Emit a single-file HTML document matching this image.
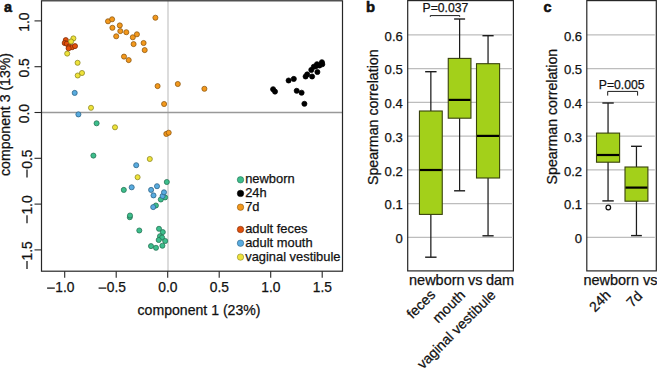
<!DOCTYPE html>
<html><head><meta charset="utf-8"><style>
html,body{margin:0;padding:0;background:#fff;}
body{width:657px;height:368px;overflow:hidden;}
svg{display:block;}
svg text{font-family:"Liberation Sans", sans-serif;fill:#111;stroke:#111;stroke-width:0.25px;}
</style></head><body>
<svg width="657" height="368" viewBox="0 0 657 368">
<line x1="168.0" y1="0.8" x2="168.0" y2="271.2" stroke="#cdcdcd" stroke-width="1.4"/>
<line x1="41.5" y1="112.50" x2="342.5" y2="112.50" stroke="#999999" stroke-width="1.3"/>
<circle cx="108.0" cy="21.3" r="2.55" fill="#f3981c" stroke="#8a5510" stroke-width="0.75"/>
<circle cx="112.1" cy="19.3" r="2.55" fill="#f3981c" stroke="#8a5510" stroke-width="0.75"/>
<circle cx="112.4" cy="27.8" r="2.55" fill="#f3981c" stroke="#8a5510" stroke-width="0.75"/>
<circle cx="119.8" cy="25.4" r="2.55" fill="#f3981c" stroke="#8a5510" stroke-width="0.75"/>
<circle cx="120.3" cy="31.1" r="2.55" fill="#f3981c" stroke="#8a5510" stroke-width="0.75"/>
<circle cx="126.3" cy="32.2" r="2.55" fill="#f3981c" stroke="#8a5510" stroke-width="0.75"/>
<circle cx="116.2" cy="36.3" r="2.55" fill="#f3981c" stroke="#8a5510" stroke-width="0.75"/>
<circle cx="132.8" cy="37.3" r="2.55" fill="#f3981c" stroke="#8a5510" stroke-width="0.75"/>
<circle cx="136.9" cy="34.3" r="2.55" fill="#f3981c" stroke="#8a5510" stroke-width="0.75"/>
<circle cx="133.6" cy="44.1" r="2.55" fill="#f3981c" stroke="#8a5510" stroke-width="0.75"/>
<circle cx="143.6" cy="43.0" r="2.55" fill="#f3981c" stroke="#8a5510" stroke-width="0.75"/>
<circle cx="144.7" cy="50.1" r="2.55" fill="#f3981c" stroke="#8a5510" stroke-width="0.75"/>
<circle cx="124.0" cy="56.6" r="2.55" fill="#f3981c" stroke="#8a5510" stroke-width="0.75"/>
<circle cx="128.7" cy="60.1" r="2.55" fill="#f3981c" stroke="#8a5510" stroke-width="0.75"/>
<circle cx="155.4" cy="17.7" r="2.55" fill="#f3981c" stroke="#8a5510" stroke-width="0.75"/>
<circle cx="157.6" cy="86.1" r="2.55" fill="#f3981c" stroke="#8a5510" stroke-width="0.75"/>
<circle cx="177.8" cy="84.0" r="2.55" fill="#f3981c" stroke="#8a5510" stroke-width="0.75"/>
<circle cx="204.4" cy="88.8" r="2.55" fill="#f3981c" stroke="#8a5510" stroke-width="0.75"/>
<circle cx="164.1" cy="104.0" r="2.55" fill="#f3981c" stroke="#8a5510" stroke-width="0.75"/>
<circle cx="166.3" cy="133.9" r="2.55" fill="#f3981c" stroke="#8a5510" stroke-width="0.75"/>
<circle cx="168.7" cy="132.7" r="2.55" fill="#f3981c" stroke="#8a5510" stroke-width="0.75"/>
<circle cx="273.1" cy="89.2" r="2.55" fill="#000000" stroke="#000000" stroke-width="0.75"/>
<circle cx="275.0" cy="91.6" r="2.55" fill="#000000" stroke="#000000" stroke-width="0.75"/>
<circle cx="288.6" cy="80.5" r="2.55" fill="#000000" stroke="#000000" stroke-width="0.75"/>
<circle cx="293.8" cy="78.9" r="2.55" fill="#000000" stroke="#000000" stroke-width="0.75"/>
<circle cx="296.7" cy="90.8" r="2.55" fill="#000000" stroke="#000000" stroke-width="0.75"/>
<circle cx="301.6" cy="92.7" r="2.55" fill="#000000" stroke="#000000" stroke-width="0.75"/>
<circle cx="304.4" cy="103.8" r="2.55" fill="#000000" stroke="#000000" stroke-width="0.75"/>
<circle cx="305.6" cy="76.5" r="2.55" fill="#000000" stroke="#000000" stroke-width="0.75"/>
<circle cx="307.2" cy="74.4" r="2.55" fill="#000000" stroke="#000000" stroke-width="0.75"/>
<circle cx="312.1" cy="76.5" r="2.55" fill="#000000" stroke="#000000" stroke-width="0.75"/>
<circle cx="311.3" cy="69.9" r="2.55" fill="#000000" stroke="#000000" stroke-width="0.75"/>
<circle cx="313.8" cy="66.7" r="2.55" fill="#000000" stroke="#000000" stroke-width="0.75"/>
<circle cx="317.4" cy="72.0" r="2.55" fill="#000000" stroke="#000000" stroke-width="0.75"/>
<circle cx="317.0" cy="64.2" r="2.55" fill="#000000" stroke="#000000" stroke-width="0.75"/>
<circle cx="319.5" cy="65.5" r="2.55" fill="#000000" stroke="#000000" stroke-width="0.75"/>
<circle cx="321.9" cy="62.2" r="2.55" fill="#000000" stroke="#000000" stroke-width="0.75"/>
<circle cx="322.3" cy="64.2" r="2.55" fill="#000000" stroke="#000000" stroke-width="0.75"/>
<circle cx="315.8" cy="66.3" r="2.55" fill="#000000" stroke="#000000" stroke-width="0.75"/>
<circle cx="65.8" cy="40.1" r="2.55" fill="#e2500c" stroke="#782a04" stroke-width="0.75"/>
<circle cx="64.7" cy="43.0" r="2.55" fill="#e2500c" stroke="#782a04" stroke-width="0.75"/>
<circle cx="66.8" cy="43.7" r="2.55" fill="#e2500c" stroke="#782a04" stroke-width="0.75"/>
<circle cx="69.3" cy="46.5" r="2.55" fill="#e2500c" stroke="#782a04" stroke-width="0.75"/>
<circle cx="72.1" cy="47.2" r="2.55" fill="#e2500c" stroke="#782a04" stroke-width="0.75"/>
<circle cx="75.0" cy="46.1" r="2.55" fill="#e2500c" stroke="#782a04" stroke-width="0.75"/>
<circle cx="68.6" cy="48.3" r="2.55" fill="#e2500c" stroke="#782a04" stroke-width="0.75"/>
<circle cx="73.4" cy="38.4" r="2.55" fill="#eee23a" stroke="#8a8420" stroke-width="0.75"/>
<circle cx="71.1" cy="41.5" r="2.55" fill="#eee23a" stroke="#8a8420" stroke-width="0.75"/>
<circle cx="67.2" cy="53.6" r="2.55" fill="#eee23a" stroke="#8a8420" stroke-width="0.75"/>
<circle cx="77.6" cy="62.8" r="2.55" fill="#eee23a" stroke="#8a8420" stroke-width="0.75"/>
<circle cx="77.7" cy="75.5" r="2.55" fill="#eee23a" stroke="#8a8420" stroke-width="0.75"/>
<circle cx="82.0" cy="73.0" r="2.55" fill="#eee23a" stroke="#8a8420" stroke-width="0.75"/>
<circle cx="91.0" cy="107.8" r="2.55" fill="#eee23a" stroke="#8a8420" stroke-width="0.75"/>
<circle cx="115.0" cy="127.3" r="2.55" fill="#eee23a" stroke="#8a8420" stroke-width="0.75"/>
<circle cx="149.8" cy="159.0" r="2.55" fill="#eee23a" stroke="#8a8420" stroke-width="0.75"/>
<circle cx="137.6" cy="177.2" r="2.55" fill="#eee23a" stroke="#8a8420" stroke-width="0.75"/>
<circle cx="129.8" cy="217.2" r="2.55" fill="#3dbe8c" stroke="#246f52" stroke-width="0.75"/>
<circle cx="96.6" cy="123.3" r="2.55" fill="#3dbe8c" stroke="#246f52" stroke-width="0.75"/>
<circle cx="93.4" cy="155.6" r="2.55" fill="#3dbe8c" stroke="#246f52" stroke-width="0.75"/>
<circle cx="166.8" cy="182.0" r="2.55" fill="#3dbe8c" stroke="#246f52" stroke-width="0.75"/>
<circle cx="123.8" cy="189.9" r="2.55" fill="#3dbe8c" stroke="#246f52" stroke-width="0.75"/>
<circle cx="165.1" cy="197.4" r="2.55" fill="#3dbe8c" stroke="#246f52" stroke-width="0.75"/>
<circle cx="160.8" cy="199.5" r="2.55" fill="#3dbe8c" stroke="#246f52" stroke-width="0.75"/>
<circle cx="155.9" cy="205.5" r="2.55" fill="#3dbe8c" stroke="#246f52" stroke-width="0.75"/>
<circle cx="130.0" cy="215.5" r="2.55" fill="#3dbe8c" stroke="#246f52" stroke-width="0.75"/>
<circle cx="139.3" cy="230.5" r="2.55" fill="#3dbe8c" stroke="#246f52" stroke-width="0.75"/>
<circle cx="159.0" cy="228.8" r="2.55" fill="#3dbe8c" stroke="#246f52" stroke-width="0.75"/>
<circle cx="162.8" cy="232.1" r="2.55" fill="#3dbe8c" stroke="#246f52" stroke-width="0.75"/>
<circle cx="160.0" cy="236.2" r="2.55" fill="#3dbe8c" stroke="#246f52" stroke-width="0.75"/>
<circle cx="162.1" cy="237.6" r="2.55" fill="#3dbe8c" stroke="#246f52" stroke-width="0.75"/>
<circle cx="158.7" cy="240.0" r="2.55" fill="#3dbe8c" stroke="#246f52" stroke-width="0.75"/>
<circle cx="165.2" cy="241.0" r="2.55" fill="#3dbe8c" stroke="#246f52" stroke-width="0.75"/>
<circle cx="151.0" cy="246.1" r="2.55" fill="#3dbe8c" stroke="#246f52" stroke-width="0.75"/>
<circle cx="156.0" cy="247.8" r="2.55" fill="#3dbe8c" stroke="#246f52" stroke-width="0.75"/>
<circle cx="162.4" cy="245.7" r="2.55" fill="#3dbe8c" stroke="#246f52" stroke-width="0.75"/>
<circle cx="74.7" cy="92.9" r="2.55" fill="#58abdf" stroke="#2d6283" stroke-width="0.75"/>
<circle cx="78.4" cy="114.4" r="2.55" fill="#58abdf" stroke="#2d6283" stroke-width="0.75"/>
<circle cx="136.2" cy="165.2" r="2.55" fill="#58abdf" stroke="#2d6283" stroke-width="0.75"/>
<circle cx="131.7" cy="187.3" r="2.55" fill="#58abdf" stroke="#2d6283" stroke-width="0.75"/>
<circle cx="157.0" cy="186.2" r="2.55" fill="#58abdf" stroke="#2d6283" stroke-width="0.75"/>
<circle cx="151.1" cy="189.9" r="2.55" fill="#58abdf" stroke="#2d6283" stroke-width="0.75"/>
<circle cx="153.5" cy="195.4" r="2.55" fill="#58abdf" stroke="#2d6283" stroke-width="0.75"/>
<circle cx="162.6" cy="196.0" r="2.55" fill="#58abdf" stroke="#2d6283" stroke-width="0.75"/>
<circle cx="164.0" cy="192.3" r="2.55" fill="#58abdf" stroke="#2d6283" stroke-width="0.75"/>
<circle cx="153.2" cy="207.1" r="2.55" fill="#58abdf" stroke="#2d6283" stroke-width="0.75"/>
<rect x="41.5" y="0.8" width="301.0" height="270.4" fill="none" stroke="#262626" stroke-width="1.2"/>
<line x1="64.70" y1="271.2" x2="64.70" y2="277.8" stroke="#262626" stroke-width="1.1"/>
<text x="64.90" y="292.3" font-size="13.8" text-anchor="middle">1.0</text>
<line x1="47.10" y1="288.1" x2="54.80" y2="288.1" stroke="#111" stroke-width="1.25"/>
<line x1="116.20" y1="271.2" x2="116.20" y2="277.8" stroke="#262626" stroke-width="1.1"/>
<text x="116.40" y="292.3" font-size="13.8" text-anchor="middle">0.5</text>
<line x1="98.60" y1="288.1" x2="106.30" y2="288.1" stroke="#111" stroke-width="1.25"/>
<line x1="167.70" y1="271.2" x2="167.70" y2="277.8" stroke="#262626" stroke-width="1.1"/>
<text x="167.90" y="292.3" font-size="13.8" text-anchor="middle">0.0</text>
<line x1="219.20" y1="271.2" x2="219.20" y2="277.8" stroke="#262626" stroke-width="1.1"/>
<text x="219.40" y="292.3" font-size="13.8" text-anchor="middle">0.5</text>
<line x1="270.70" y1="271.2" x2="270.70" y2="277.8" stroke="#262626" stroke-width="1.1"/>
<text x="270.90" y="292.3" font-size="13.8" text-anchor="middle">1.0</text>
<line x1="322.20" y1="271.2" x2="322.20" y2="277.8" stroke="#262626" stroke-width="1.1"/>
<text x="322.40" y="292.3" font-size="13.8" text-anchor="middle">1.5</text>
<line x1="34.5" y1="20.90" x2="41.5" y2="20.90" stroke="#262626" stroke-width="1.1"/>
<text transform="translate(29.2,22.10) rotate(-90)" font-size="13.8" text-anchor="middle">1.0</text>
<line x1="34.5" y1="66.70" x2="41.5" y2="66.70" stroke="#262626" stroke-width="1.1"/>
<text transform="translate(29.2,67.90) rotate(-90)" font-size="13.8" text-anchor="middle">0.5</text>
<line x1="34.5" y1="112.50" x2="41.5" y2="112.50" stroke="#262626" stroke-width="1.1"/>
<text transform="translate(29.2,113.70) rotate(-90)" font-size="13.8" text-anchor="middle">0.0</text>
<line x1="34.5" y1="158.30" x2="41.5" y2="158.30" stroke="#262626" stroke-width="1.1"/>
<text transform="translate(31.5,159.20) rotate(-90)" font-size="13.8" text-anchor="middle">0.5</text>
<line x1="27.0" y1="169.40" x2="27.0" y2="177.40" stroke="#111" stroke-width="1.25"/>
<line x1="34.5" y1="204.10" x2="41.5" y2="204.10" stroke="#262626" stroke-width="1.1"/>
<text transform="translate(31.5,205.00) rotate(-90)" font-size="13.8" text-anchor="middle">1.0</text>
<line x1="27.0" y1="215.20" x2="27.0" y2="223.20" stroke="#111" stroke-width="1.25"/>
<line x1="34.5" y1="249.90" x2="41.5" y2="249.90" stroke="#262626" stroke-width="1.1"/>
<text transform="translate(31.5,250.80) rotate(-90)" font-size="13.8" text-anchor="middle">1.5</text>
<line x1="27.0" y1="261.00" x2="27.0" y2="269.00" stroke="#111" stroke-width="1.25"/>
<text x="199" y="315.2" font-size="14.1" text-anchor="middle">component 1 (23%)</text>
<text transform="translate(9.6,114.5) rotate(-90)" font-size="14.1" text-anchor="middle">component 3 (13%)</text>
<text x="3.9" y="11.8" font-size="14.4" font-weight="bold" style="stroke-width:0.55px">a</text>
<circle cx="240.5" cy="179.8" r="3.2" fill="#3dbe8c" stroke="#246f52" stroke-width="0.6"/>
<text x="245.2" y="183.4" font-size="12.9">newborn</text>
<circle cx="240.5" cy="193.4" r="3.2" fill="#000000" stroke="#000000" stroke-width="0.6"/>
<text x="245.2" y="197.0" font-size="12.9">24h</text>
<circle cx="240.5" cy="207.2" r="3.2" fill="#f3981c" stroke="#8a5510" stroke-width="0.6"/>
<text x="245.2" y="210.8" font-size="12.9">7d</text>
<circle cx="240.5" cy="229.5" r="3.2" fill="#e2500c" stroke="#782a04" stroke-width="0.6"/>
<text x="245.2" y="233.1" font-size="12.9">adult feces</text>
<circle cx="240.5" cy="243.2" r="3.2" fill="#58abdf" stroke="#2d6283" stroke-width="0.6"/>
<text x="245.2" y="246.8" font-size="12.9">adult mouth</text>
<circle cx="240.5" cy="257.1" r="3.2" fill="#eee23a" stroke="#8a8420" stroke-width="0.6"/>
<text x="245.2" y="260.7" font-size="12.9">vaginal vestibule</text>
<line x1="407.7" y1="237.30" x2="511.9" y2="237.30" stroke="#bdbdbd" stroke-width="1.3"/>
<text x="402.8" y="243.20" font-size="13.1" text-anchor="end">0</text>
<line x1="407.7" y1="203.55" x2="511.9" y2="203.55" stroke="#bdbdbd" stroke-width="1.3"/>
<text x="402.8" y="209.45" font-size="13.1" text-anchor="end">0.1</text>
<line x1="407.7" y1="169.80" x2="511.9" y2="169.80" stroke="#bdbdbd" stroke-width="1.3"/>
<text x="402.8" y="175.70" font-size="13.1" text-anchor="end">0.2</text>
<line x1="407.7" y1="136.05" x2="511.9" y2="136.05" stroke="#bdbdbd" stroke-width="1.3"/>
<text x="402.8" y="141.95" font-size="13.1" text-anchor="end">0.3</text>
<line x1="407.7" y1="102.30" x2="511.9" y2="102.30" stroke="#bdbdbd" stroke-width="1.3"/>
<text x="402.8" y="108.20" font-size="13.1" text-anchor="end">0.4</text>
<line x1="407.7" y1="68.55" x2="511.9" y2="68.55" stroke="#bdbdbd" stroke-width="1.3"/>
<text x="402.8" y="74.45" font-size="13.1" text-anchor="end">0.5</text>
<line x1="407.7" y1="34.80" x2="511.9" y2="34.80" stroke="#bdbdbd" stroke-width="1.3"/>
<text x="402.8" y="40.70" font-size="13.1" text-anchor="end">0.6</text>
<line x1="430.85" y1="71.7" x2="430.85" y2="257.2" stroke="#1c1c1c" stroke-width="1.25"/>
<line x1="425.15000000000003" y1="71.7" x2="436.55" y2="71.7" stroke="#1c1c1c" stroke-width="1.4"/>
<line x1="425.15000000000003" y1="257.2" x2="436.55" y2="257.2" stroke="#1c1c1c" stroke-width="1.4"/>
<rect x="419.45000000000005" y="111.0" width="22.8" height="103.4" fill="#a3d01a" stroke="#38420c" stroke-width="1.1"/>
<line x1="419.95000000000005" y1="170.0" x2="441.75" y2="170.0" stroke="#000" stroke-width="2.2"/>
<line x1="459.6" y1="19.0" x2="459.6" y2="190.8" stroke="#1c1c1c" stroke-width="1.25"/>
<line x1="454.1" y1="19.0" x2="465.1" y2="19.0" stroke="#1c1c1c" stroke-width="1.4"/>
<line x1="454.1" y1="190.8" x2="465.1" y2="190.8" stroke="#1c1c1c" stroke-width="1.4"/>
<rect x="448.25" y="58.4" width="22.7" height="59.800000000000004" fill="#a3d01a" stroke="#38420c" stroke-width="1.1"/>
<line x1="448.75" y1="99.9" x2="470.45000000000005" y2="99.9" stroke="#000" stroke-width="2.2"/>
<line x1="488.05" y1="35.7" x2="488.05" y2="235.8" stroke="#1c1c1c" stroke-width="1.25"/>
<line x1="482.45" y1="35.7" x2="493.65000000000003" y2="35.7" stroke="#1c1c1c" stroke-width="1.4"/>
<line x1="482.45" y1="235.8" x2="493.65000000000003" y2="235.8" stroke="#1c1c1c" stroke-width="1.4"/>
<rect x="476.5" y="63.7" width="23.1" height="114.3" fill="#a3d01a" stroke="#38420c" stroke-width="1.1"/>
<line x1="477.0" y1="135.9" x2="499.1" y2="135.9" stroke="#000" stroke-width="2.2"/>
<rect x="407.7" y="0.6" width="105.69999999999999" height="270.29999999999995" fill="none" stroke="#262626" stroke-width="1.2"/>
<line x1="586.8" y1="237.30" x2="654.8" y2="237.30" stroke="#bdbdbd" stroke-width="1.3"/>
<text x="582.1" y="243.20" font-size="13.1" text-anchor="end">0</text>
<line x1="586.8" y1="203.55" x2="654.8" y2="203.55" stroke="#bdbdbd" stroke-width="1.3"/>
<text x="582.1" y="209.45" font-size="13.1" text-anchor="end">0.1</text>
<line x1="586.8" y1="169.80" x2="654.8" y2="169.80" stroke="#bdbdbd" stroke-width="1.3"/>
<text x="582.1" y="175.70" font-size="13.1" text-anchor="end">0.2</text>
<line x1="586.8" y1="136.05" x2="654.8" y2="136.05" stroke="#bdbdbd" stroke-width="1.3"/>
<text x="582.1" y="141.95" font-size="13.1" text-anchor="end">0.3</text>
<line x1="586.8" y1="102.30" x2="654.8" y2="102.30" stroke="#bdbdbd" stroke-width="1.3"/>
<text x="582.1" y="108.20" font-size="13.1" text-anchor="end">0.4</text>
<line x1="586.8" y1="68.55" x2="654.8" y2="68.55" stroke="#bdbdbd" stroke-width="1.3"/>
<text x="582.1" y="74.45" font-size="13.1" text-anchor="end">0.5</text>
<line x1="586.8" y1="34.80" x2="654.8" y2="34.80" stroke="#bdbdbd" stroke-width="1.3"/>
<text x="582.1" y="40.70" font-size="13.1" text-anchor="end">0.6</text>
<line x1="608.05" y1="103.0" x2="608.05" y2="200.9" stroke="#1c1c1c" stroke-width="1.25"/>
<line x1="602.3499999999999" y1="103.0" x2="613.75" y2="103.0" stroke="#1c1c1c" stroke-width="1.4"/>
<line x1="602.3499999999999" y1="200.9" x2="613.75" y2="200.9" stroke="#1c1c1c" stroke-width="1.4"/>
<rect x="596.5" y="133.1" width="23.1" height="29.099999999999994" fill="#a3d01a" stroke="#38420c" stroke-width="1.1"/>
<line x1="597.0" y1="155.0" x2="619.0999999999999" y2="155.0" stroke="#000" stroke-width="2.2"/>
<line x1="636.45" y1="146.3" x2="636.45" y2="235.6" stroke="#1c1c1c" stroke-width="1.25"/>
<line x1="631.0500000000001" y1="146.3" x2="641.85" y2="146.3" stroke="#1c1c1c" stroke-width="1.4"/>
<line x1="631.0500000000001" y1="235.6" x2="641.85" y2="235.6" stroke="#1c1c1c" stroke-width="1.4"/>
<rect x="625.0" y="167.0" width="22.9" height="34.19999999999999" fill="#a3d01a" stroke="#38420c" stroke-width="1.1"/>
<line x1="625.5" y1="187.6" x2="647.4000000000001" y2="187.6" stroke="#000" stroke-width="2.2"/>
<circle cx="608.3" cy="207.5" r="2.3" fill="none" stroke="#111" stroke-width="1.25"/>
<rect x="586.8" y="0.6" width="69.5" height="270.29999999999995" fill="none" stroke="#262626" stroke-width="1.2"/>
<text transform="translate(377.6,117.2) rotate(-90)" font-size="14.2" text-anchor="middle">Spearman correlation</text>
<text transform="translate(556.6,116.6) rotate(-90)" font-size="14.2" text-anchor="middle">Spearman correlation</text>
<text x="366.0" y="11.8" font-size="14.8" font-weight="bold" style="stroke-width:0.55px">b</text>
<text x="543.6" y="11.5" font-size="14.4" font-weight="bold" style="stroke-width:0.55px">c</text>
<text x="445.4" y="12.2" font-size="12.2" text-anchor="middle">P=0.037</text>
<path d="M430.3,16.9 V15.6 H459.7 V16.9" fill="none" stroke="#1a1a1a" stroke-width="1"/>
<text x="621.7" y="88.6" font-size="12.2" text-anchor="middle">P=0.005</text>
<path d="M607.7,95.6 V91.4 H637.6 V95.6" fill="none" stroke="#1a1a1a" stroke-width="1"/>
<text x="461.6" y="285.0" font-size="14.5" text-anchor="middle" word-spacing="-0.6">newborn vs dam</text>
<text x="583.4" y="285.0" font-size="14.5">newborn vs</text>
<text transform="translate(436.2,295.6) rotate(-45)" font-size="14.1" text-anchor="end">feces</text>
<text transform="translate(466.0,296.0) rotate(-45)" font-size="14.1" text-anchor="end">mouth</text>
<text transform="translate(496.6,296.0) rotate(-45)" font-size="14.1" text-anchor="end">vaginal vestibule</text>
<text transform="translate(611.6,296.0) rotate(-45)" font-size="14.1" text-anchor="end">24h</text>
<text transform="translate(643.4,297.0) rotate(-45)" font-size="14.1" text-anchor="end">7d</text>
</svg>
</body></html>
